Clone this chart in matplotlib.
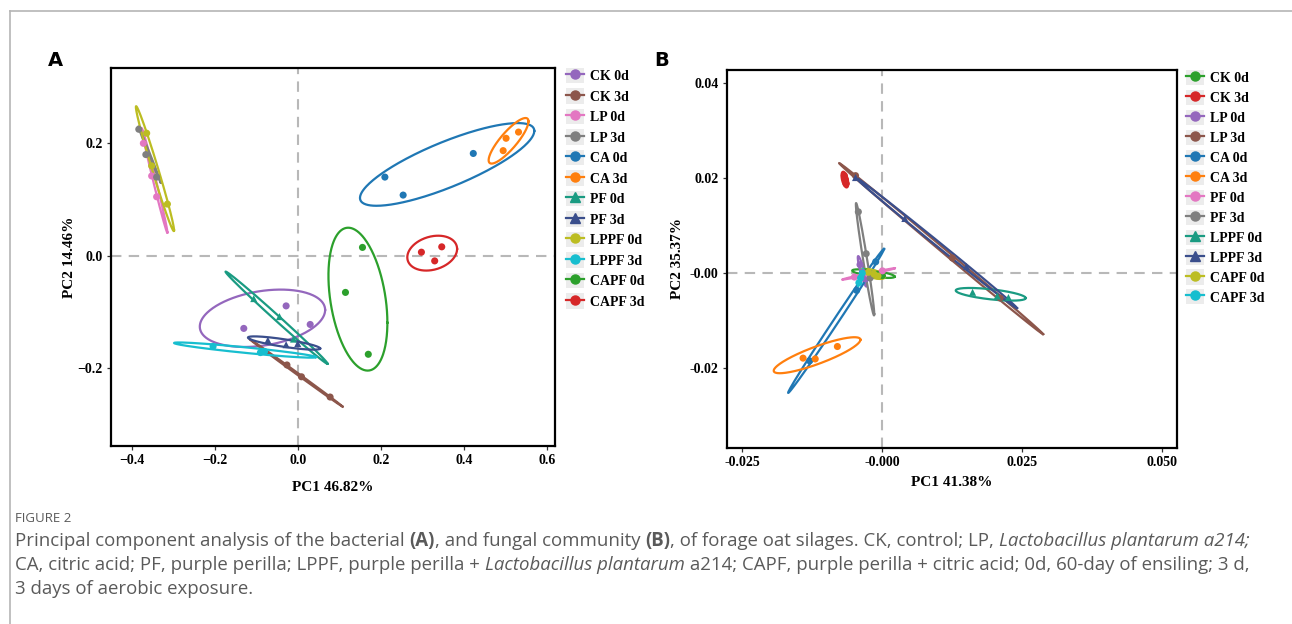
import numpy as np
import matplotlib
matplotlib.use("Agg")
import matplotlib.pyplot as plt
from matplotlib.lines import Line2D
from matplotlib.patches import Rectangle
from matplotlib.legend_handler import HandlerLine2D

# ---------------------------------------------------------
# Panel A: bacterial community PCA
# ---------------------------------------------------------
groups_a = ['CK 0d', 'CK 3d', 'LP 0d', 'LP 3d', 'CA 0d', 'CA 3d',
            'PF 0d', 'PF 3d', 'LPPF 0d', 'LPPF 3d', 'CAPF 0d', 'CAPF 3d']
pc1_a = [[-0.028, -0.130, 0.030], [-0.026, 0.009, 0.078], [-0.372, -0.352, -0.340],
         [-0.383, -0.366, -0.340], [0.210, 0.254, 0.423], [0.502, 0.532, 0.495],
         [-0.106, -0.044, -0.010], [-0.072, -0.028, 0.000], [-0.364, -0.352, -0.314],
         [-0.204, -0.090, -0.080], [0.156, 0.115, 0.170], [0.298, 0.347, 0.330]]
pc2_a = [[-0.089, -0.129, -0.122], [-0.194, -0.215, -0.251], [0.200, 0.142, 0.105],
         [0.225, 0.180, 0.140], [0.140, 0.108, 0.182], [0.209, 0.220, 0.187],
         [-0.076, -0.108, -0.148], [-0.150, -0.158, -0.156], [0.218, 0.160, 0.092],
         [-0.161, -0.172, -0.170], [0.015, -0.065, -0.175], [0.0065, 0.016, -0.009]]
# confidence ellipses: centre, spread along PC1 / PC2, correlation
ell_cx_a = [-0.085, -0.004, -0.345, -0.357, 0.360, 0.508, -0.051, -0.033, -0.344, -0.127, 0.145, 0.324]
ell_cy_a = [-0.111, -0.208, 0.134, 0.180, 0.1625, 0.2045, -0.110, -0.155, 0.155, -0.1675, -0.077, 0.0048]
ell_sx_a = [0.151, 0.112, 0.031, 0.027, 0.210, 0.048, 0.123, 0.087, 0.046, 0.171, 0.071, 0.060]
ell_sy_a = [0.051, 0.060, 0.093, 0.050, 0.0735, 0.0405, 0.082, 0.0118, 0.111, 0.0135, 0.127, 0.031]
ell_r_a = [0.29, -0.9995, -0.993, -0.998, 0.81, 0.85, -0.997, -0.82, -0.986, -0.93, -0.33, 0.24]

# ---------------------------------------------------------
# Panel B: fungal community PCA
# ---------------------------------------------------------
groups_b = groups_a
pc1_b = [[-0.0030, -0.0010, 0.0000], [-0.0068, -0.0066, -0.0065], [-0.0040, -0.0035, -0.0030],
         [-0.0048, 0.0125, 0.0210], [-0.0046, -0.0012, -0.0130], [-0.01417, -0.00804, -0.0120],
         [-0.0050, -0.0025, 0.0000], [-0.0043, -0.0029, -0.0022], [0.0161, 0.0205, 0.0225],
         [-0.0048, 0.0040, 0.0150], [-0.0025, -0.0015, -0.0008], [-0.0042, -0.0039, -0.0036]]
pc2_b = [[0.0003, -0.0002, -0.0005], [0.0205, 0.0196, 0.0188], [0.0018, 0.0002, -0.0012],
         [0.0205, 0.0032, -0.0052], [-0.0036, 0.0024, -0.0184], [-0.01783, -0.01539, -0.0180],
         [-0.0008, -0.0002, 0.0005], [0.0129, 0.0041, -0.0010], [-0.0040, -0.0048, -0.0051],
         [0.0201, 0.0115, 0.0014], [0.0002, -0.0002, -0.0006], [-0.0020, -0.0010, 0.0000]]
ell_cx_b = [-0.0016, -0.0067, -0.0036, 0.01048, -0.00827, -0.01167, -0.0025, -0.0031, 0.01934, 0.00964, -0.00167, -0.0039]
ell_cy_b = [-0.00008, 0.01967, 0.0004, 0.00517, -0.0100, -0.01722, -0.00015, 0.00294, -0.00442, 0.00638, -0.00015, -0.0010]
ell_sx_b = [0.0038, 0.0006, 0.0008, 0.01822, 0.00857, 0.00774, 0.0047, 0.00164, 0.00625, 0.0144, 0.0021, 0.0005]
ell_sy_b = [0.0009, 0.00165, 0.0032, 0.01798, 0.01514, 0.00378, 0.0012, 0.0118, 0.00133, 0.01372, 0.00105, 0.0019]
ell_r_b = [-0.7, -0.5, -0.9, -0.9995, 0.998, 0.86, 0.99, -0.975, -0.6, -0.999, -0.6, 0.99]

xticks_a = [-0.4, -0.2, 0.0, 0.2, 0.4, 0.6]
xticklabels_a = ['\u22120.4', '\u22120.2', '0.0', '0.2', '0.4', '0.6']
yticks_a = [-0.2, 0.0, 0.2]
yticklabels_a = ['\u22120.2', '0.0', '0.2']
xticks_b = [-0.025, 0.0, 0.025, 0.05]
xticklabels_b = ['-0.025', '-0.000', '0.025', '0.050']
yticks_b = [-0.02, 0.0, 0.02, 0.04]
yticklabels_b = ['-0.02', '-0.00', '0.02', '0.04']

# styles
colors_a = ['#9467bd', '#8c564b', '#e377c2', '#7f7f7f', '#1f77b4', '#ff7f0e',
            '#1a9b82', '#3a4e8c', '#bcbd22', '#17becf', '#2ca02c', '#d62728']
markers_a = ['o'] * 6 + ['^', '^'] + ['o'] * 4
colors_b = ['#2ca02c', '#d62728', '#9467bd', '#8c564b', '#1f77b4', '#ff7f0e',
            '#e377c2', '#7f7f7f', '#1a9b82', '#3a4e8c', '#bcbd22', '#17becf']
markers_b = ['o'] * 8 + ['^', '^'] + ['o'] * 2

SERIF = 'Liberation Serif'


class KeyHandler(HandlerLine2D):
    """legend key with a grey background square, ggplot style"""
    def create_artists(self, legend, orig_handle, xdescent, ydescent,
                       width, height, fontsize, trans):
        bg = Rectangle((-xdescent, -ydescent), width, height,
                       facecolor='#ececec', edgecolor='none', transform=trans)
        arts = super().create_artists(legend, orig_handle, xdescent, ydescent,
                                      width, height, fontsize, trans)
        return [bg] + list(arts)


def draw_panel(ax, groups, xs, ys, cx, cy, sx, sy, rr, colors, markers):
    t = np.linspace(0, 2 * np.pi, 300)
    handles = []
    for i, g in enumerate(groups):
        ex = cx[i] + sx[i] * np.cos(t)
        ey = cy[i] + sy[i] * (rr[i] * np.cos(t) + np.sqrt(1 - rr[i] ** 2) * np.sin(t))
        ax.plot(ex, ey, color=colors[i], lw=1.6, zorder=3)
        ax.scatter(xs[i], ys[i], color=colors[i], marker=markers[i], s=26,
                   edgecolors='none', zorder=4)
        handles.append(Line2D([], [], color=colors[i], marker=markers[i], lw=1.6,
                              markersize=6.5, label=g))
    ax.axhline(0, color='#b8b8b8', ls=(0, (5, 3.5)), lw=1.5, zorder=1)
    ax.axvline(0, color='#b8b8b8', ls=(0, (5, 3.5)), lw=1.5, zorder=1)
    for s in ax.spines.values():
        s.set_linewidth(1.6)
        s.set_color('black')
    ax.tick_params(direction='out', length=3, width=0.9, color='#333333', pad=3)
    for lab in ax.get_xticklabels() + ax.get_yticklabels():
        lab.set_fontfamily(SERIF)
        lab.set_fontweight('bold')
        lab.set_fontsize(10)
    return handles


fig = plt.figure(figsize=(12.92, 6.24), dpi=100)

ax_a = fig.add_axes([0.0859, 0.2853, 0.3437, 0.6058])
ax_a.set_xlim(-0.45, 0.62)
ax_a.set_ylim(-0.338, 0.334)
ax_a.set_xticks(xticks_a, xticklabels_a)
ax_a.set_yticks(yticks_a, yticklabels_a)
h_a = draw_panel(ax_a, groups_a, pc1_a, pc2_a, ell_cx_a, ell_cy_a, ell_sx_a, ell_sy_a,
                 ell_r_a, colors_a, markers_a)
ax_a.set_xlabel('PC1 46.82%', fontfamily=SERIF, fontweight='bold', fontsize=11, labelpad=10)
ax_a.set_ylabel('PC2 14.46%', fontfamily=SERIF, fontweight='bold', fontsize=11, labelpad=1)

ax_b = fig.add_axes([0.5627, 0.2821, 0.3483, 0.6058])
ax_b.set_xlim(-0.02775, 0.0526)
ax_b.set_ylim(-0.0367, 0.0427)
ax_b.set_xticks(xticks_b, xticklabels_b)
ax_b.set_yticks(yticks_b, yticklabels_b)
h_b = draw_panel(ax_b, groups_b, pc1_b, pc2_b, ell_cx_b, ell_cy_b, ell_sx_b, ell_sy_b,
                 ell_r_b, colors_b, markers_b)
ax_b.set_xlabel('PC1 41.38%', fontfamily=SERIF, fontweight='bold', fontsize=11, labelpad=5)
ax_b.set_ylabel('PC2 35.37%', fontfamily=SERIF, fontweight='bold', fontsize=11, labelpad=4)

for ax, hh, anchor, sp in [(ax_a, h_a, (1.025, 1.0), 0.38), (ax_b, h_b, (1.02, 1.0), 0.34)]:
    ax.legend(handles=hh, loc='upper left', bbox_to_anchor=anchor, frameon=False,
              borderpad=0, borderaxespad=0, handlelength=1.3, handleheight=1.3,
              labelspacing=sp, handletextpad=0.4,
              prop={'family': SERIF, 'weight': 'bold', 'size': 10},
              handler_map={Line2D: KeyHandler()})

# panel letters
fig.text(55 / 1292, 1 - 60 / 624, 'A', fontsize=14, fontweight='bold',
         fontfamily='DejaVu Sans', ha='center', va='center')
fig.text(662 / 1292, 1 - 60 / 624, 'B', fontsize=14, fontweight='bold',
         fontfamily='DejaVu Sans', ha='center', va='center')

# outer frame (left and top rule)
fig.add_artist(Line2D([10 / 1292, 10 / 1292], [0, 1 - 11 / 624], transform=fig.transFigure,
                      color='#b5b5b5', lw=1.2))
fig.add_artist(Line2D([10 / 1292, 1], [1 - 11 / 624, 1 - 11 / 624], transform=fig.transFigure,
                      color='#b5b5b5', lw=1.2))

# caption
CAP = 'Open Sans'
CAP_COLOR = '#5a5a5a'
fig.text(15 / 1292, 1 - 518 / 624, 'FIGURE 2', fontsize=9.5, color='#5a5a5a',
         fontfamily=CAP, va='center')

renderer = fig.canvas.get_renderer()


def rich_line(x, y, parts, size=13.4):
    for txt, style in parts:
        kw = dict(fontsize=size, color=CAP_COLOR, fontfamily=CAP, va='center')
        if style == 'b':
            kw['fontweight'] = 'bold'
        elif style == 'i':
            kw['fontstyle'] = 'italic'
        t = fig.text(x, y, txt.replace(' ', '\u00a0'), **kw)
        bb = t.get_window_extent(renderer=renderer)
        x += bb.width / fig.bbox.width


rich_line(15 / 1292, 1 - 541 / 624, [
    ('Principal component analysis of the bacterial ', 'n'), ('(A)', 'b'),
    (', and fungal community ', 'n'), ('(B)', 'b'),
    (', of forage oat silages. CK, control; LP, ', 'n'),
    ('Lactobacillus plantarum a214;', 'i')])
rich_line(15 / 1292, 1 - 565 / 624, [
    ('CA, citric acid; PF, purple perilla; LPPF, purple perilla + ', 'n'),
    ('Lactobacillus plantarum', 'i'),
    (' a214; CAPF, purple perilla + citric acid; 0d, 60-day of ensiling; 3 d,', 'n')])
rich_line(15 / 1292, 1 - 589 / 624, [('3 days of aerobic exposure.', 'n')])

fig.savefig('out.png', dpi=100, facecolor='white')
